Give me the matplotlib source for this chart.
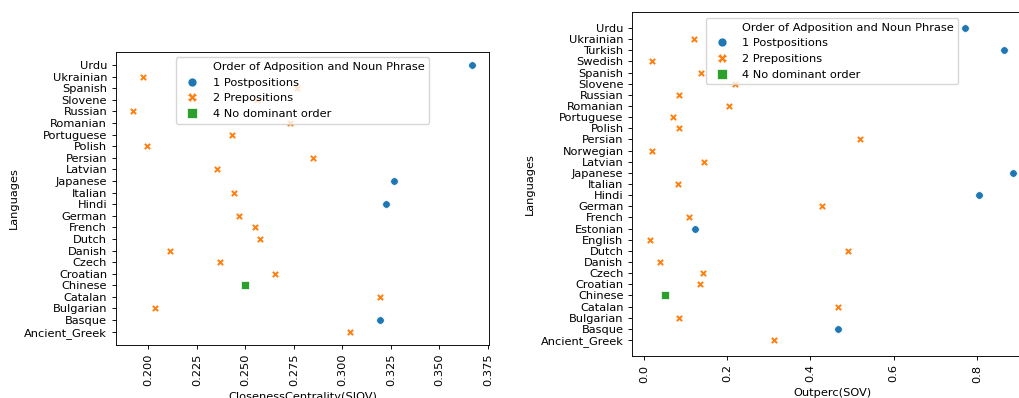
import matplotlib
matplotlib.use("Agg")
import matplotlib.pyplot as plt
from matplotlib.lines import Line2D

# ---- data ----
left_langs = ["Ancient_Greek", "Basque", "Bulgarian", "Catalan", "Chinese", "Croatian",
              "Czech", "Danish", "Dutch", "French", "German", "Hindi", "Italian",
              "Japanese", "Latvian", "Persian", "Polish", "Portuguese", "Romanian",
              "Russian", "Slovene", "Spanish", "Ukrainian", "Urdu"]
left_vals = [0.3041, 0.3193, 0.2036, 0.3193, 0.2496, 0.2652,
             0.2369, 0.2109, 0.2574, 0.2550, 0.2465, 0.3225, 0.2441,
             0.3268, 0.2354, 0.2848, 0.1995, 0.2429, 0.2729,
             0.1920, 0.2560, 0.2767, 0.1972, 0.3670]
left_order = [2, 1, 2, 2, 4, 2,
              2, 2, 2, 2, 2, 1, 2,
              1, 2, 2, 2, 2, 2,
              2, 2, 2, 2, 1]

right_langs = ["Ancient_Greek", "Basque", "Bulgarian", "Catalan", "Chinese", "Croatian",
               "Czech", "Danish", "Dutch", "English", "Estonian", "French", "German",
               "Hindi", "Italian", "Japanese", "Latvian", "Norwegian", "Persian",
               "Polish", "Portuguese", "Romanian", "Russian", "Slovene", "Spanish",
               "Swedish", "Turkish", "Ukrainian", "Urdu"]
right_vals = [0.3133, 0.4659, 0.0851, 0.4659, 0.0514, 0.1349,
              0.1406, 0.0378, 0.4908, 0.0153, 0.1213, 0.1084, 0.4265,
              0.8057, 0.0811, 0.8880, 0.1446, 0.0201, 0.5197,
              0.0851, 0.0707, 0.2032, 0.0851, 0.2177, 0.1373,
              0.0201, 0.8643, 0.1189, 0.7719]
right_order = [2, 1, 2, 2, 4, 2,
               2, 2, 2, 2, 1, 2, 2,
               1, 2, 1, 2, 2, 2,
               2, 2, 2, 2, 2, 2,
               2, 1, 2, 1]

order_labels = {1: "1 Postpositions", 2: "2 Prepositions", 4: "4 No dominant order"}
order_colors = {1: "#1f77b4", 2: "#ff7f0e", 4: "#2ca02c"}
order_markers = {1: "o", 2: "X", 4: "s"}
legend_title = "Order of Adposition and Noun Phrase"

FS = 8.2
plt.rcParams.update({
    "font.family": "DejaVu Sans",
    "font.size": FS,
    "axes.linewidth": 0.65,
    "xtick.major.width": 0.65,
    "ytick.major.width": 0.65,
    "xtick.major.size": 2.8,
    "ytick.major.size": 2.8,
})

fig = plt.figure(figsize=(10.19, 3.98), dpi=100)
ax1 = fig.add_axes([0.1138, 0.1332, 0.3663, 0.7369])
ax2 = fig.add_axes([0.6205, 0.1063, 0.3919, 0.8628])


def draw(ax, langs, vals, orders, xlabel):
    # establish categorical order on the y axis
    ax.scatter(vals, langs, s=0, alpha=0)
    for key in (1, 2, 4):
        xs = [v for v, o in zip(vals, orders) if o == key]
        ys = [l for l, o in zip(langs, orders) if o == key]
        ax.scatter(xs, ys, s=30, c=order_colors[key], marker=order_markers[key],
                   edgecolors="white", linewidths=0.5, zorder=3)
    ax.set_xlabel(xlabel, fontsize=FS)
    ax.set_ylabel("Languages", fontsize=FS)
    ax.tick_params(axis="x", labelrotation=90, labelsize=FS)
    ax.tick_params(axis="y", labelsize=FS)
    handles = [Line2D([], [], linestyle="none", marker=None)]
    labels = [legend_title]
    for key in (1, 2, 4):
        handles.append(Line2D([], [], linestyle="none", marker=order_markers[key],
                              markerfacecolor=order_colors[key], markeredgecolor="white",
                              markeredgewidth=0.5, markersize=6.5))
        labels.append(order_labels[key])
    ax.legend(handles, labels, loc="upper center", fontsize=FS)


draw(ax1, left_langs, left_vals, left_order, "ClosenessCentrality(SIOV)")
draw(ax2, right_langs, right_vals, right_order, "Outperc(SOV)")
ax1.set_xticks([0.200, 0.225, 0.250, 0.275, 0.300, 0.325, 0.350, 0.375])

fig.savefig("out.png", dpi=100)
